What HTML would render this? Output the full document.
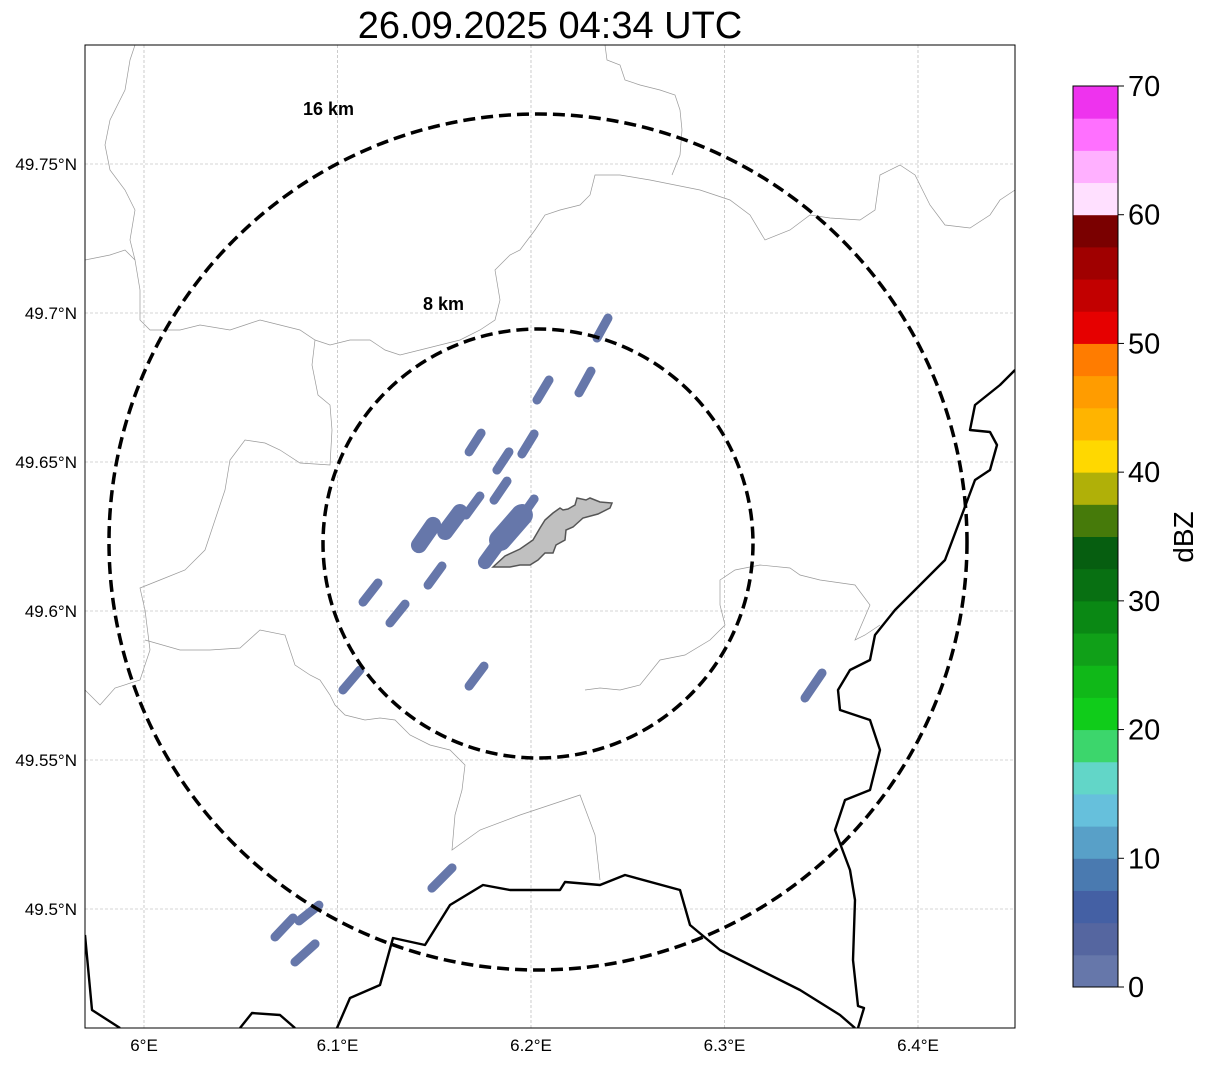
<!DOCTYPE html>
<html><head><meta charset="utf-8"><style>
body{margin:0;background:#fff;width:1207px;height:1064px;overflow:hidden}
svg{font-family:"Liberation Sans","DejaVu Sans",sans-serif}
</style></head><body>
<svg id="chart" width="1207" height="1064">
<text x="550" y="38" font-size="38" text-anchor="middle">26.09.2025 04:34 UTC</text>
<defs><clipPath id="mapclip"><rect x="85" y="45" width="930" height="983"/></clipPath></defs>
<g id="map" clip-path="url(#mapclip)">
<g fill="none" stroke="#999" stroke-width="0.7">
<polyline points="85,260 110,255 125,250 135,260 140,290 140,320 150,330 180,330 200,325 230,330 245,325 260,320 280,325 300,330 315,340 330,345 350,340 370,340 385,350 400,355 420,350 440,345 460,340 480,330 495,320 500,300 495,270 510,255 520,250 535,230 545,215 560,210 580,205 590,195 595,175 620,175 650,180 700,190 730,200 750,215 765,240 790,230 810,215 830,218 860,220 875,210 880,175 900,165 915,175 930,205 945,225 970,228 990,215 1000,200 1015,190"/>
<polyline points="605,45 607,60 620,65 625,80 640,85 660,90 675,95 680,110 682,130 680,155 672,175"/>
<polyline points="135,45 130,60 125,90 110,120 105,145 110,170 125,190 135,210 130,240 135,260"/>
<polyline points="315,340 312,365 318,395 330,405 332,430 330,465 300,463 280,450 265,443 245,440 230,460 225,490 215,520 205,550 185,570 160,580 140,588 145,610 150,650 140,680 115,688 100,705 85,690"/>
<polyline points="145,640 180,650 210,650 240,648 260,630 285,635 295,665 310,675 320,680 330,695 335,705 345,715 365,720 380,718 395,720 410,735 430,745 450,750 465,765 462,790 455,815 452,850 480,830 520,815 550,805 580,795 595,835 600,880"/>
<polyline points="585,690 600,688 620,690 640,685 660,660 685,655 710,640 725,625 720,605 720,580 735,570 760,565 790,568 800,575 820,580 855,585 870,605 855,640 865,635 880,625"/>
</g>
<g id="grid" stroke="#aaa" stroke-width="0.6" stroke-dasharray="3,2"></g>
<g fill="none" stroke="#000" stroke-width="2.4" stroke-linejoin="round">
<polyline points="1015,370 1000,385 975,405 970,430 990,432 997,445 990,470 975,480 960,520 945,560 930,575 915,590 895,610 875,635 870,660 850,670 838,690 840,710 870,720 880,750 870,790 845,800 835,830 850,870 855,900 853,960 858,1006 864,1008 858,1028"/>
<polyline points="240,1028 252,1013 280,1015 295,1028"/>
<polyline points="337,1028 350,998 380,985 393,938 425,945 450,905 483,885 510,890 560,890 565,882 600,885 625,875 680,890 690,925 720,950 760,970 800,990 840,1015 855,1028"/>
<polyline points="85,935 92,1010 120,1028"/>
</g>
<polygon points="493,567 505,556 520,549 533,540 540,528 545,520 553,513 560,508 563,510 568,509 575,505 577,498 586,500 590,498 600,502 612,503 610,508 598,514 583,518 573,527 566,530 565,540 556,545 553,553 545,553 538,560 530,565 520,565 510,567" fill="#c0c0c0" stroke="#555" stroke-width="1.5"/>
<g id="echoes"></g>
<g fill="none" stroke="#000" stroke-width="3.5" stroke-dasharray="12,6">
<ellipse cx="538" cy="542" rx="429" ry="428"/>
<ellipse cx="538" cy="543.5" rx="215" ry="214.5"/>
</g>
<text x="303" y="115" font-size="18" font-weight="bold">16 km</text>
<text x="423" y="310" font-size="18" font-weight="bold">8 km</text>
</g>
<rect x="85" y="45" width="930" height="983" fill="none" stroke="#000" stroke-width="1"/>
<g id="axes" font-size="17"></g>
<g id="cbar"></g>
<text x="1193" y="537" font-size="28" text-anchor="middle" transform="rotate(-90 1193 537)">dBZ</text>
</svg>
<script>
const lonTicks=[6.0,6.1,6.2,6.3,6.4];
const lonLabels=["6°E","6.1°E","6.2°E","6.3°E","6.4°E"];
const latTicks=[49.75,49.7,49.65,49.6,49.55,49.5];
const latLabels=["49.75°N","49.7°N","49.65°N","49.6°N","49.55°N","49.5°N"];
const echoLon0=[6.2341,6.2031,6.2248,6.1680,6.1824,6.1953,6.1809,6.1664,6.1762,6.1840,6.1933,6.1421,6.1556,6.1468,6.1132,6.1271,6.1028,6.1680,6.3416,6.1488,6.0677,6.0801,6.0780];
const echoLat0=[49.6916,49.6708,49.6732,49.6534,49.6473,49.6527,49.6372,49.6322,49.6164,49.6238,49.6299,49.6221,49.6265,49.6087,49.6030,49.5960,49.5735,49.5748,49.5708,49.5070,49.4906,49.4960,49.4822];
const echoLon1=[6.2398,6.2093,6.2310,6.1742,6.1886,6.2016,6.1876,6.1736,6.1902,6.1953,6.2016,6.1494,6.1633,6.1540,6.1209,6.1349,6.1116,6.1757,6.3504,6.1592,6.0770,6.0904,6.0884];
const echoLat1=[49.6983,49.6775,49.6805,49.6597,49.6534,49.6594,49.6436,49.6386,49.6289,49.6322,49.6376,49.6289,49.6332,49.6151,49.6094,49.6023,49.5802,49.5815,49.5792,49.5138,49.4970,49.5013,49.4883];
const echoDBZ=[1,1,1,1,1,1,1,1,1,1,1,1,1,1,1,1,1,1,1,1,1,1,1];
const echoWidth=[9,9,9,9,9,9,9,9,14,22,9,16,16,9,9,9,9,9,9,9,9,9,9];
const cbTicks=[0,10,20,30,40,50,60,70];
const cbColors=["#6677aa","#5566a0","#4460a4","#4a7ab0","#58a0c8","#66c0dc","#62d6c8","#3cd66c","#10cc1a","#10b818","#10a018","#0a8814","#087012","#065e10","#467a0a","#b0b008","#ffd800","#ffb400","#ff9c00","#ff7c00","#e60000","#c20000","#a00000","#7a0000","#ffe0ff","#ffb0ff","#ff70ff","#ee33ee"];
const NS="http://www.w3.org/2000/svg";
const xLon=l=>144+(l-6)*1935;
const yLat=l=>164-(l-49.75)*2980;
const yCb=v=>987-(v/70)*901;
function mk(t,a,p){const e=document.createElementNS(NS,t);for(const k in a)e.setAttribute(k,a[k]);p.appendChild(e);return e;}
const grid=document.getElementById('grid'),axes=document.getElementById('axes');
lonTicks.forEach((t,i)=>{const x=xLon(t);
 const g=mk('line',{x1:x,x2:x,y1:45,y2:1028},grid);
 
 
 const tx=mk('text',{x:x,y:1051,'text-anchor':'middle'},axes);tx.textContent=lonLabels[i];
 
 });
latTicks.forEach((t,i)=>{const y=yLat(t);
 const g=mk('line',{x1:85,x2:1015,y1:y,y2:y},grid);
 
 
 const tx=mk('text',{x:77,y:y+6,'text-anchor':'end'},axes);tx.textContent=latLabels[i];
 
 });
const ech=document.getElementById('echoes');
echoLon0.forEach((l,i)=>{const ci=Math.min(27,Math.floor(echoDBZ[i]/2.5));
 const e=mk('line',{x1:xLon(l),y1:yLat(echoLat0[i]),x2:xLon(echoLon1[i]),y2:yLat(echoLat1[i]),stroke:cbColors[ci],'stroke-width':echoWidth[i],'stroke-linecap':'round'},ech);
 
 });
const cb=document.getElementById('cbar');
cbColors.forEach((c,i)=>{const y1=yCb((i+1)*2.5),y0=yCb(i*2.5);
 const r=mk('rect',{x:1073,y:y1,width:45,height:y0-y1+0.5,fill:c},cb);
 
 });
mk('rect',{x:1073,y:yCb(70),width:45,height:yCb(0)-yCb(70),fill:'none',stroke:'#000','stroke-width':1},cb);
cbTicks.forEach(t=>{const y=yCb(t);
 mk('line',{x1:1118,x2:1124,y1:y,y2:y,stroke:'#000'},cb);
 const tx=mk('text',{x:1128,y:y+10,'font-size':29},cb);tx.textContent=t;
 
 });
</script>
</body></html>
